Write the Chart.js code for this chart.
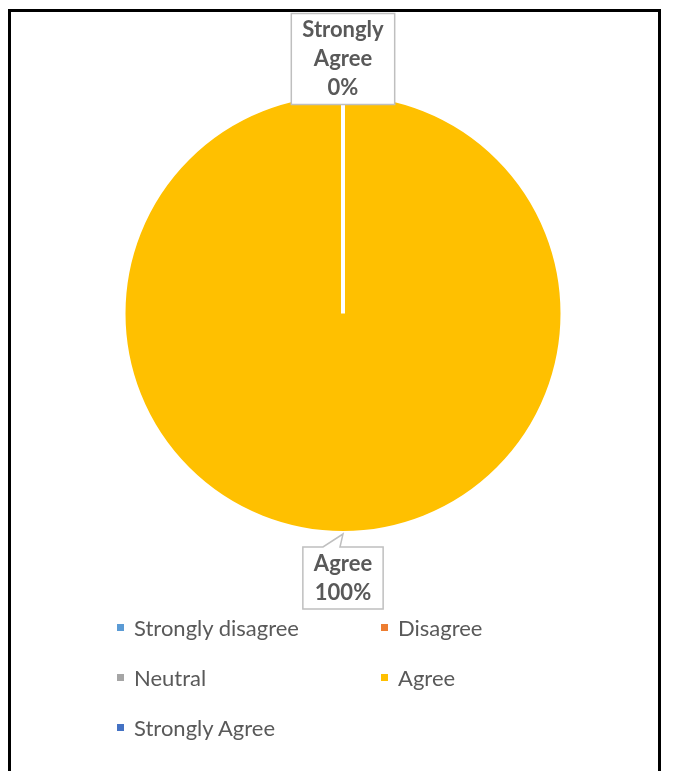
<!DOCTYPE html>
<html lang="en">
<head>
  <meta charset="UTF-8">
  <title>Survey responses</title>
  <script src="https://cdn.jsdelivr.net/npm/chart.js"></script>
  <style>
    body {
      margin: 0;
      background: #ffffff;
      font-family: Lato, 'Noto Sans', sans-serif;
    }

    .frame {
      position: absolute;
      left: 8px;
      top: 9px;
      width: 647px;
      height: 800px;
      border: 3px solid #000;
      background: #ffffff;
    }

    .chart-box {
      position: absolute;
      left: 0;
      top: 0;
      width: 647px;
      height: 605px;
    }

    .legend {
      position: absolute;
      left: 106px;
      top: 590px;
      display: grid;
      grid-template-columns: 264px 200px;
      grid-auto-rows: 50px;
      color: #595959;
      font-size: 22px;
    }

    .legend-item {
      display: flex;
      align-items: center;
    }

    .legend-item span.box {
      width: 7px;
      height: 7px;
      margin-right: 10px;
    }
  </style>
</head>
<body>

<div class="frame">
  <div class="chart-box">
    <canvas id="responseChart"></canvas>
  </div>
  <div class="legend" id="legend"></div>
</div>

<script>
  // answer categories and their share of responses (%)
  const categories = ['Strongly disagree', 'Disagree', 'Neutral', 'Agree', 'Strongly Agree'];
  const shares = [0, 0, 0, 100, 0];
  const sliceColors = ['#5B9BD5', '#ED7D31', '#A5A5A5', '#FFC000', '#4472C4'];
  // only these categories get a callout label
  const labelled = ['Agree', 'Strongly Agree'];

  // legend in two columns, built from the same arrays
  const legendEl = document.getElementById('legend');
  categories.forEach((name, i) => {
    const item = document.createElement('div');
    item.className = 'legend-item';
    item.innerHTML = `<span class="box" style="background:${sliceColors[i]}"></span>${name}`;
    legendEl.appendChild(item);
  });

  // callout boxes with label + percentage
  const calloutPlugin = {
    id: 'callouts',
    afterDatasetsDraw(chart) {
      const ctx = chart.ctx;
      const meta = chart.getDatasetMeta(0);
      ctx.save();
      ctx.font = 'bold 22px Lato, "Noto Sans", sans-serif';
      ctx.textAlign = 'center';
      ctx.textBaseline = 'middle';
      labelled.forEach(name => {
        const i = categories.indexOf(name);
        const arc = meta.data[i];
        const { x, y, startAngle, endAngle, outerRadius } = arc.getProps(['x', 'y', 'startAngle', 'endAngle', 'outerRadius'], true);
        const mid = (startAngle + endAngle) / 2;
        const lines = name.split(' ').concat([shares[i] + '%']);
        const lineH = 29;
        const w = Math.max(...lines.map(l => ctx.measureText(l).width)) + 22;
        const h = lines.length * lineH + 4;
        const dist = outerRadius + 40;
        const cx = x + Math.cos(mid) * dist;
        const cy = y + Math.sin(mid) * dist + 5;
        const left = cx - w / 2;
        const top = cy - h / 2;

        ctx.beginPath();
        if (Math.sin(mid) > 0.5) {
          // pointer from the top edge back to the pie
          const tipX = x + Math.cos(mid) * outerRadius;
          const tipY = y + Math.sin(mid) * outerRadius;
          ctx.moveTo(left, top);
          ctx.lineTo(cx - 20, top);
          ctx.lineTo(tipX, tipY + 1);
          ctx.lineTo(cx - 3, top);
          ctx.lineTo(left + w, top);
          ctx.lineTo(left + w, top + h);
          ctx.lineTo(left, top + h);
          ctx.closePath();
        } else {
          ctx.rect(left, top, w, h);
        }
        ctx.fillStyle = '#ffffff';
        ctx.fill();
        ctx.strokeStyle = '#BFBFBF';
        ctx.lineWidth = 1.5;
        ctx.stroke();

        ctx.fillStyle = '#595959';
        lines.forEach((l, k) => {
          ctx.fillText(l, cx, top + 2 + lineH * (k + 0.5));
        });
      });
      ctx.restore();
    }
  };

  new Chart(document.getElementById('responseChart'), {
    type: 'pie',
    data: {
      labels: categories,
      datasets: [{
        data: shares,
        backgroundColor: sliceColors,
        borderColor: '#ffffff',
        borderWidth: 4,
        hoverOffset: 0
      }]
    },
    options: {
      responsive: true,
      maintainAspectRatio: false,
      animation: false,
      layout: {
        padding: { left: 17, right: 0, top: 80, bottom: 82 }
      },
      plugins: {
        legend: { display: false },
        tooltip: { enabled: false }
      }
    },
    plugins: [calloutPlugin]
  });
</script>

</body>
</html>
